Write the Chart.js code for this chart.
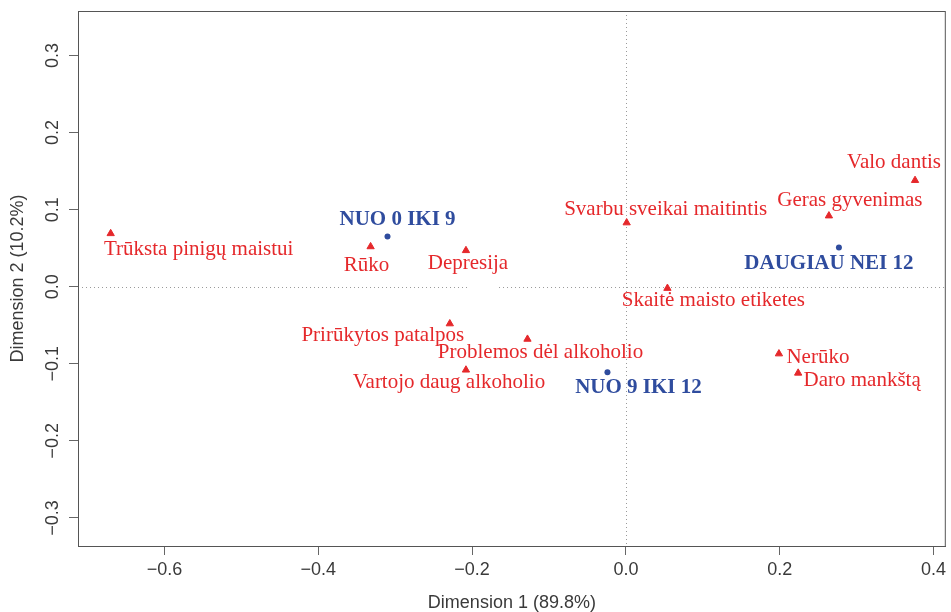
<!DOCTYPE html>
<html>
<head>
<meta charset="utf-8">
<script src="https://cdn.jsdelivr.net/npm/chart.js@4.4.1/dist/chart.umd.min.js"></script>
<style>
  html, body { margin: 0; padding: 0; background: #fff; }
  canvas { display: block; }
</style>
</head>
<body>
<canvas id="caChart" width="951" height="612"></canvas>
<script>
// eilutes (raudoni trikampiai)
var rowLabels = ["Trūksta pinigų maistui", "Rūko", "Depresija", "Svarbu sveikai maitintis",
  "Skaitė maisto etiketes", "Prirūkytos patalpos", "Problemos dėl alkoholio",
  "Vartojo daug alkoholio", "Valo dantis", "Geras gyvenimas", "Nerūko", "Daro mankštą"];
var rowDim1 = [-0.670, -0.332, -0.208, 0.001, 0.054, -0.229, -0.128, -0.208, 0.376, 0.264, 0.199, 0.224];
var rowDim2 = [0.069, 0.052, 0.047, 0.083, -0.002, -0.048, -0.068, -0.108, 0.138, 0.092, -0.087, -0.112];

// stulpeliai (melyni taskai)
var colLabels = ["NUO 0 IKI 9", "NUO 9 IKI 12", "DAUGIAU NEI 12"];
var colDim1 = [-0.310, -0.024, 0.277];
var colDim2 = [0.065, -0.111, 0.051];

// asiu padalos
var xTicks = [-0.6, -0.4, -0.2, 0.0, 0.2, 0.4];
var yTicks = [-0.3, -0.2, -0.1, 0.0, 0.1, 0.2, 0.3];

// uzrasu poslinkiai nuo tasko (px) - tik isdestymas
var rowLabelShift = [[88, 21], [-4, 24], [2, 19], [39, -8], [46, 18], [-67, 17], [13, 19],
  [-17, 18], [-21, -12], [21, -10], [39, 9], [64, 13]];
var colLabelShift = [[10, -12], [31, 21], [-10, 22]];

var RED = "#e5282b";
var BLUE = "#2f4c9e";
var AXIS_TEXT = "#3a3a3a";
var BOX = "#555555";

function toPoints(xs, ys) {
  var out = [];
  for (var i = 0; i < xs.length; i++) {
    out.push({ x: xs[i], y: ys[i] });
  }
  return out;
}

function fmtTick(v) {
  var s = Math.abs(v) < 1e-9 ? "0.0" : v.toFixed(1);
  return s.replace("-", "\u2212");
}

// remelis, nuliniai taskuoti brukšniai, y padalu tekstas ir tasku uzrasai
var caPlugin = {
  id: "caPlugin",
  beforeDatasetsDraw: function(chart) {
    var ctx = chart.ctx;
    var a = chart.chartArea;
    var xs = chart.scales.x;
    var ys = chart.scales.y;
    ctx.save();
    ctx.strokeStyle = "#9a9a9a";
    ctx.lineWidth = 1;
    ctx.setLineDash([1, 3]);
    var y0 = Math.round(ys.getPixelForValue(0)) + 0.5;
    var x0 = Math.round(xs.getPixelForValue(0)) + 0.5;
    ctx.beginPath();
    ctx.moveTo(a.left, y0);
    ctx.lineTo(xs.getPixelForValue(-0.206), y0);
    ctx.moveTo(xs.getPixelForValue(-0.165), y0);
    ctx.lineTo(a.right, y0);
    ctx.moveTo(x0, a.top);
    ctx.lineTo(x0, a.bottom);
    ctx.stroke();
    ctx.restore();
  },
  afterDraw: function(chart) {
    var ctx = chart.ctx;
    var a = chart.chartArea;
    var ys = chart.scales.y;
    ctx.save();
    ctx.strokeStyle = BOX;
    ctx.lineWidth = 1;
    ctx.strokeRect(a.left + 0.5, a.top + 0.5, a.right - a.left - 1, a.bottom - a.top);
    // y padalu tekstas pasuktas
    ctx.fillStyle = AXIS_TEXT;
    ctx.font = "18px 'Liberation Sans', Arial, sans-serif";
    ctx.textAlign = "center";
    ctx.textBaseline = "middle";
    ys.ticks.forEach(function(t) {
      var py = ys.getPixelForValue(t.value);
      ctx.save();
      ctx.translate(53, py);
      ctx.rotate(-Math.PI / 2);
      ctx.fillText(fmtTick(t.value), 0, 0);
      ctx.restore();
    });
    // uzrasai
    ctx.textAlign = "center";
    ctx.textBaseline = "alphabetic";
    var rowMeta = chart.getDatasetMeta(0);
    ctx.fillStyle = RED;
    ctx.font = "21px 'Liberation Serif', 'Times New Roman', serif";
    for (var i = 0; i < rowLabels.length; i++) {
      var p = rowMeta.data[i];
      ctx.fillText(rowLabels[i], p.x + rowLabelShift[i][0], p.y + rowLabelShift[i][1]);
    }
    var colMeta = chart.getDatasetMeta(1);
    ctx.fillStyle = BLUE;
    ctx.font = "bold 21px 'Liberation Serif', 'Times New Roman', serif";
    for (var j = 0; j < colLabels.length; j++) {
      var q = colMeta.data[j];
      ctx.fillText(colLabels[j], q.x + colLabelShift[j][0], q.y + colLabelShift[j][1]);
    }
    ctx.restore();
  }
};

var axisFont = { family: "'Liberation Sans', Arial, sans-serif", size: 18 };

var chart = new Chart(document.getElementById("caChart"), {
  type: "scatter",
  data: {
    datasets: [{
      label: "rows",
      data: toPoints(rowDim1, rowDim2),
      pointStyle: "triangle",
      pointRadius: 4.2,
      backgroundColor: RED,
      borderColor: RED,
      borderWidth: 1
    }, {
      label: "cols",
      data: toPoints(colDim1, colDim2),
      pointStyle: "circle",
      pointRadius: 3,
      backgroundColor: BLUE,
      borderColor: BLUE,
      borderWidth: 0
    }]
  },
  options: {
    responsive: false,
    animation: false,
    devicePixelRatio: 1,
    layout: { padding: { top: 11, right: 0, left: 0, bottom: 0 } },
    plugins: {
      legend: { display: false },
      tooltip: { enabled: false }
    },
    scales: {
      x: {
        type: "linear",
        min: -0.7125,
        max: 0.416,
        afterBuildTicks: function(scale) {
          scale.ticks = xTicks.map(function(v) { return { value: v }; });
        },
        afterFit: function(scale) {
          scale.height = 66;
          scale.paddingLeft = 0;
          scale.paddingRight = 0;
        },
        ticks: {
          color: AXIS_TEXT,
          font: axisFont,
          padding: 4,
          maxRotation: 0,
          autoSkip: false,
          callback: function(v) { return fmtTick(v); }
        },
        grid: {
          display: true,
          drawOnChartArea: false,
          drawTicks: true,
          tickLength: 9,
          tickColor: "#666666"
        },
        border: { display: true, color: BOX },
        title: {
          display: true,
          text: "Dimension 1 (89.8%)",
          color: AXIS_TEXT,
          font: { family: "'Liberation Sans', Arial, sans-serif", size: 18, lineHeight: 1 },
          padding: { top: 0, bottom: 0 }
        }
      },
      y: {
        type: "linear",
        min: -0.3364,
        max: 0.3577,
        afterBuildTicks: function(scale) {
          scale.ticks = yTicks.map(function(v) { return { value: v }; });
        },
        afterFit: function(scale) {
          scale.width = 78;
          scale.paddingTop = 0;
          scale.paddingBottom = 0;
        },
        ticks: { display: false },
        grid: {
          display: true,
          drawOnChartArea: false,
          drawTicks: true,
          tickLength: 9,
          tickColor: "#666666"
        },
        border: { display: true, color: BOX },
        title: {
          display: true,
          text: "Dimension 2 (10.2%)",
          color: AXIS_TEXT,
          font: { family: "'Liberation Sans', Arial, sans-serif", size: 18, lineHeight: 1 },
          padding: { top: 9, bottom: 0 }
        }
      }
    }
  },
  plugins: [caPlugin]
});
</script>
</body>
</html>
